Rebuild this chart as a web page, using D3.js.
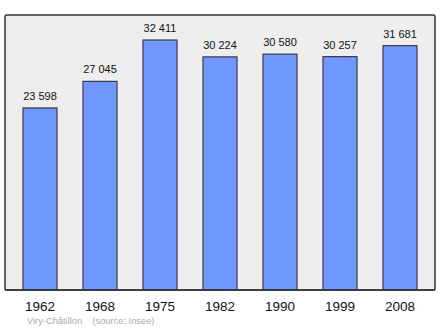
<!DOCTYPE html>
<html>
<head>
<meta charset="utf-8">
<script src="https://cdn.jsdelivr.net/npm/d3@7"></script>
<style>
  body { margin: 0; background: #fff; }
  text { font-family: "Liberation Sans", Arial, sans-serif; }
</style>
</head>
<body>
<div id="chart"></div>
<script>
// population by census year
var years = ["1962", "1968", "1975", "1982", "1990", "1999", "2008"];
var population = [23598, 27045, 32411, 30224, 30580, 30257, 31681];
var sourceLabel = "Viry-Châtillon    (source: Insee)";

var outerWidth = 440,
    outerHeight = 329,
    frame = {left: 5, top: 15, right: 435, bottom: 290};

var svg = d3.select("#chart")
    .append("svg")
    .attr("width", outerWidth)
    .attr("height", outerHeight);

// grey plotting box
svg.append("rect")
    .attr("x", frame.left)
    .attr("y", frame.top)
    .attr("width", frame.right - frame.left)
    .attr("height", frame.bottom - frame.top)
    .attr("rx", 1.5)
    .attr("fill", "#eeeeee")
    .attr("stroke", "#333333")
    .attr("stroke-width", 1.5);

// band scale for the years, 60px step and 34px bars
var xScale = d3.scaleBand()
    .domain(years)
    .range([frame.left + 5, frame.left + 5 + 60 * years.length])
    .paddingInner(26 / 60)
    .paddingOuter(13 / 60);

// top of the box is 10% above the largest value
var yScale = d3.scaleLinear()
    .domain([0, d3.max(population) * 1.1])
    .range([frame.bottom, frame.top]);

svg.selectAll(".bar")
    .data(years)
    .enter()
    .append("rect")
    .attr("class", "bar")
    .attr("x", d => xScale(d))
    .attr("y", (d, i) => yScale(population[i]))
    .attr("width", xScale.bandwidth())
    .attr("height", (d, i) => frame.bottom - yScale(population[i]))
    .attr("fill", "#7097ff")
    .attr("stroke", "#3a3a4a")
    .attr("stroke-width", 1.2);

// value labels with a space as thousands separator
var fmt = d => d3.format(",")(d).replace(",", " ");

svg.selectAll(".val")
    .data(years)
    .enter()
    .append("text")
    .attr("class", "val")
    .attr("x", d => xScale(d) + xScale.bandwidth() / 2)
    .attr("y", (d, i) => yScale(population[i]) - 8)
    .attr("text-anchor", "middle")
    .attr("font-size", 11)
    .attr("fill", "#111")
    .text((d, i) => fmt(population[i]));

// redraw the bottom edge of the box over the bars
svg.append("line")
    .attr("x1", frame.left)
    .attr("x2", frame.right)
    .attr("y1", frame.bottom)
    .attr("y2", frame.bottom)
    .attr("stroke", "#333333")
    .attr("stroke-width", 1.5);

// year axis without line or ticks
var xAxis = d3.axisBottom(xScale).tickSize(0).tickPadding(11);
var gx = svg.append("g")
    .attr("transform", "translate(0," + frame.bottom + ")")
    .call(xAxis);
gx.select(".domain").remove();
gx.selectAll("text")
    .attr("font-size", 13.5)
    .attr("font-family", "Liberation Sans, Arial, sans-serif")
    .attr("fill", "#111");

svg.append("text")
    .attr("x", 27)
    .attr("y", 324)
    .attr("font-size", 9.3)
    .attr("fill", "#aaaaaa")
    .style("white-space", "pre")
    .text(sourceLabel);
</script>
</body>
</html>
